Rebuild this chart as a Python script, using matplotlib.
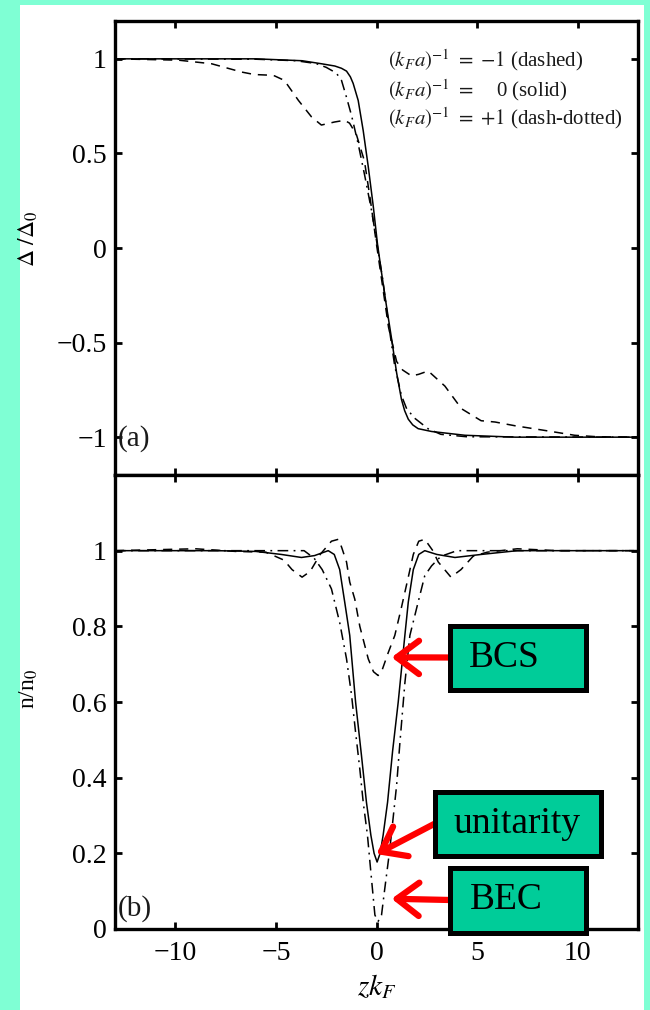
import numpy as np
import matplotlib
matplotlib.use("Agg")
import matplotlib.pyplot as plt
from matplotlib.patches import Rectangle

plt.rcParams['font.family'] = ['Liberation Serif', 'DejaVu Serif']
plt.rcParams['mathtext.fontset'] = 'stix'

# ---------------- data ----------------
# panel (a): order parameter Delta/Delta_0
z_a_solid = [-13, -6, -3.7, -2.74, -2.07, -1.74, -1.49, -1.3, -1.16, -0.91, -0.66, -0.41,
             -0.16, 0.05, 0.25, 0.5, 0.75, 1.0, 1.24, 1.4, 1.58, 1.8, 2.07, 2.74, 4.4, 6.9, 13]
d_a_solid = [1.0, 1.0, 0.99, 0.974, 0.962, 0.95, 0.935, 0.905, 0.87, 0.78, 0.62, 0.43,
             0.22, 0.02, -0.13, -0.31, -0.48, -0.66, -0.80, -0.86, -0.905, -0.935, -0.955,
             -0.97, -0.99, -1.0, -1.0]

z_a_dashdot = [-13, -6, -4, -3, -2.5, -2.0, -1.74, -1.5, -1.24, -0.91, -0.58, -0.25, 0.0,
               0.3, 0.6, 0.9, 1.24, 1.5, 1.9, 2.57, 3.2, 4.5, 13]
d_a_dashdot = [1.0, 0.998, 0.99, 0.975, 0.955, 0.925, 0.886, 0.80, 0.70, 0.55, 0.38, 0.2,
               0.04, -0.16, -0.40, -0.62, -0.78, -0.85, -0.90, -0.956, -0.985, -0.998, -1.0]

z_a_dashed = [-13, -9.85, -8.2, -6.7, -6.07, -5.4, -5.07, -4.58, -3.88, -3.23, -2.74, -2.09,
              -1.59, -1.34, -1.0, -0.6, -0.3, 0.0, 0.3, 0.6, 1.0, 1.3, 1.74, 2.09, 2.57,
              3.4, 4.23, 5.2, 5.9, 6.9, 8.4, 9.85, 11, 13]
d_a_dashed = [1.0, 0.993, 0.974, 0.93, 0.917, 0.914, 0.91, 0.886, 0.78, 0.693, 0.65, 0.666,
              0.675, 0.66, 0.60, 0.46, 0.25, 0.02, -0.2, -0.42, -0.60, -0.645, -0.676,
              -0.668, -0.65, -0.73, -0.85, -0.913, -0.92, -0.94, -0.965, -0.99, -0.998, -1.0]

# panel (b): density n/n_0
z_b_solid = [-13, -8, -6, -4.73, -3.73, -3.08, -2.4, -2.1, -1.83, -1.58, -1.33, -1.04,
             -0.75, -0.5, -0.28, -0.12, 0.03, 0.18, 0.33, 0.55, 0.8, 1.08, 1.41, 1.58,
             1.83, 2.1, 2.4, 3.0, 3.9, 5.2, 7, 13]
n_b_solid = [1.0, 1.0, 0.998, 0.99, 0.982, 0.987, 1.0, 0.99, 0.95, 0.864, 0.776, 0.6,
             0.46, 0.335, 0.248, 0.20, 0.177, 0.20, 0.248, 0.335, 0.47, 0.6, 0.776, 0.864,
             0.95, 0.99, 1.0, 0.99, 0.982, 0.99, 1.0, 1.0]

z_b_dashed = [-13, -9, -7, -5.5, -4.6, -4.2, -3.7, -3.3, -2.8, -2.24, -1.9, -1.74, -1.49,
              -1.33, -1.08, -0.83, -0.41, -0.15, 0.08, 0.25, 0.58, 0.91, 1.24, 1.58, 1.83,
              2.1, 2.4, 2.8, 3.07, 3.7, 4.2, 4.8, 5.5, 7, 9, 13]
n_b_dashed = [1.0, 1.005, 0.998, 0.996, 0.975, 0.95, 0.93, 0.945, 0.99, 1.025, 1.03,
              1.01, 0.97, 0.917, 0.872, 0.80, 0.714, 0.68, 0.67, 0.68, 0.73, 0.776, 0.85,
              0.93, 0.99, 1.025, 1.03, 1.0, 0.97, 0.93, 0.95, 0.985, 0.996, 1.005, 1.0, 1.0]

z_b_dashdot = [-13, -8, -5, -3.6, -3.1, -2.7, -2.24, -1.83, -1.49, -1.24, -1.04, -0.83,
               -0.66, -0.45, -0.28, -0.08, 0.08, 0.25, 0.41, 0.66, 1.0, 1.16, 1.41, 1.66,
               2.07, 2.4, 2.74, 3.2, 4.0, 6, 13]
n_b_dashdot = [1.0, 1.0, 1.0, 1.0, 0.98, 0.95, 0.899, 0.81, 0.714, 0.618, 0.52, 0.423,
               0.335, 0.248, 0.15, 0.037, 0.02, 0.037, 0.106, 0.21, 0.38, 0.49, 0.65,
               0.776, 0.864, 0.934, 0.96, 0.985, 1.0, 1.0, 1.0]

xticks = [-10, -5, 0, 5, 10]
yticks_a = [-1, -0.5, 0, 0.5, 1]
yticks_b = [0, 0.2, 0.4, 0.6, 0.8, 1]
ytick_labels_a = ['\u22121', '\u22120.5', '0', '0.5', '1']
ytick_labels_b = ['0', '0.2', '0.4', '0.6', '0.8', '1']
xtick_labels = ['\u221210', '\u22125', '0', '5', '10']

legend_lines = [r'$(k_F a)^{-1}\ =\ {-}1$ (dashed)',
                r'$(k_F a)^{-1}\ =$    0 (solid)',
                r'$(k_F a)^{-1}\ =\ {+}1$ (dash-dotted)']

regime_labels = ['BCS', 'unitarity', 'BEC']
regime_tips = [(0.75, 0.718), (0.0, 0.198), (0.75, 0.08)]   # (z, n) arrow targets

# ---------------- figure ----------------
W, H = 650, 1010
fig = plt.figure(figsize=(W / 100, H / 100), dpi=100)
fig.patch.set_facecolor('#7FFFD4')

def fx(px):
    return px / W

def fy(py):
    return 1 - py / H

fig.add_artist(Rectangle((fx(20), 0), fx(644) - fx(20), fy(5), transform=fig.transFigure,
                         facecolor='white', edgecolor='none', zorder=-5))

left, right = 115, 638
ax1 = fig.add_axes([fx(left), fy(475), fx(right) - fx(left), fy(21) - fy(475)])
ax2 = fig.add_axes([fx(left), fy(929), fx(right) - fx(left), fy(475) - fy(929)])

dashed = (0, (6, 4.5))
dashdot = (0, (7, 3.5, 1.2, 3.5))
lw = 1.1

ax1.plot(z_a_dashed, d_a_dashed, color='k', lw=lw, ls=dashed)
ax1.plot(z_a_solid, d_a_solid, color='k', lw=lw, ls='-')
ax1.plot(z_a_dashdot, d_a_dashdot, color='k', lw=lw, ls=dashdot)

ax2.plot(z_b_dashed, n_b_dashed, color='k', lw=lw, ls=dashed)
ax2.plot(z_b_solid, n_b_solid, color='k', lw=lw, ls='-')
ax2.plot(z_b_dashdot, n_b_dashdot, color='k', lw=lw, ls=dashdot)

for ax in (ax1, ax2):
    ax.set_xlim(-13, 13)
    ax.set_xticks(xticks)
    for sp in ax.spines.values():
        sp.set_linewidth(2.4)
    ax.tick_params(direction='in', length=5, width=2, top=True, right=True,
                   labelsize=20)
    ax.tick_params(axis='y', pad=6)
    ax.tick_params(axis='x', pad=9)
    ax.set_facecolor('white')

ax1.set_ylim(-1.2, 1.2)
ax1.set_yticks(yticks_a)
ax1.set_yticklabels(ytick_labels_a)
ax1.tick_params(axis='x', labelbottom=False)

ax2.set_ylim(0, 1.2)
ax2.set_yticks(yticks_b)
ax2.set_yticklabels(ytick_labels_b)
ax2.set_xticklabels(xtick_labels)

ax1.set_ylabel(r'$\Delta\ /\Delta_0$', fontsize=17)
ax1.yaxis.set_label_coords(-0.143, 0.52)
ax2.set_ylabel(r'n/n$_0$', fontsize=17)
ax2.yaxis.set_label_coords(-0.143, 0.53)
ax2.set_xlabel(r'$zk_F$', fontsize=21)
ax2.xaxis.set_label_coords(0.5, -0.128)
ax2.xaxis.label.set_va('center')

for i, (txt, yy) in enumerate(zip(legend_lines, [0.914, 0.848, 0.786])):
    ax1.text(0.522, yy, txt, transform=ax1.transAxes, fontsize=15, ha='left',
             va='center', color='#1a1a1a')

ax1.text(0.006, 0.081, '(a)', transform=ax1.transAxes, fontsize=21, ha='left',
         va='center', color='#1a1a1a')
ax2.text(0.006, 0.045, '(b)', transform=ax2.transAxes, fontsize=21, ha='left',
         va='center', color='#1a1a1a')

# boxes: (left, top, right, bottom) in pixels of the outer border, text offset
boxes = [(447, 623, 588, 692, 469), (432, 789, 603, 858, 453), (447, 865, 588, 935, 470)]
bw = 5  # border width px
for label, (l, t, r, b, tx), tip in zip(regime_labels, boxes, regime_tips):
    ymid = (t + b) / 2
    ax2.annotate('', xy=tip, xycoords='data', xytext=(fx(l + 3), fy(ymid)),
                 textcoords='figure fraction', annotation_clip=False,
                 arrowprops=dict(arrowstyle='->, head_length=0.8, head_width=0.6',
                                 color='#ff0000', lw=4.5, shrinkA=0, shrinkB=0,
                                 mutation_scale=20))
    fig.add_artist(Rectangle((fx(l + bw / 2), fy(b - bw / 2)),
                             fx(r - l - bw), (b - t - bw) / H,
                             transform=fig.transFigure, facecolor='#00CC99',
                             edgecolor='black', lw=bw * 0.72, zorder=10))
    fig.text(fx(tx), fy(ymid), label, fontsize=27, ha='left', va='center',
             color='black', zorder=11)

fig.savefig('out.png', dpi=100)
